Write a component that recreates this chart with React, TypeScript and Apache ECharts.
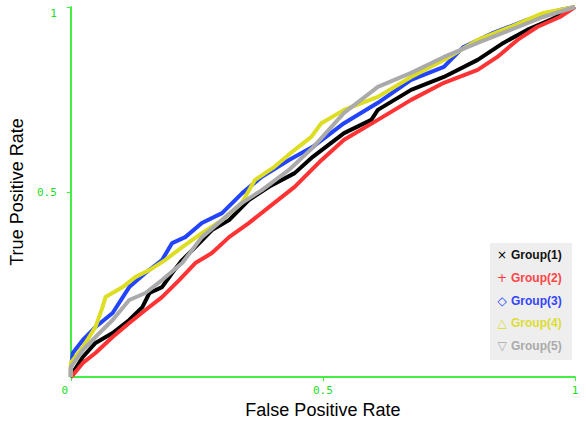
import React, { useEffect, useRef } from "react";
import * as echarts from "echarts";

const seriesNames = ["Group(1)", "Group(2)", "Group(3)", "Group(4)", "Group(5)"];
const seriesColors = ["#000000", "#ff3333", "#2244ff", "#dddd22", "#aaaaaa"];
const legendTextColors = ["#111111", "#ff4444", "#3344ff", "#dddd33", "#aaaaaa"];
const legendSymbols = ["×", "+", "◇", "△", "▽"];

const xTickLabels = ["0", "0.5", "1"];
const yTickLabels = ["", "0.5", "1"];

const group1: [number, number][] = [
  [0, 0], [0.004, 0.011], [0.024, 0.054], [0.049, 0.092], [0.083, 0.119], [0.116, 0.154],
  [0.142, 0.189], [0.156, 0.227], [0.181, 0.243], [0.201, 0.281], [0.221, 0.316],
  [0.247, 0.351], [0.28, 0.397], [0.314, 0.424], [0.353, 0.478], [0.393, 0.514],
  [0.444, 0.551], [0.48, 0.595], [0.542, 0.659], [0.596, 0.695], [0.609, 0.722],
  [0.675, 0.776], [0.74, 0.811], [0.807, 0.857], [0.858, 0.903], [0.905, 0.938],
  [0.951, 0.965], [1, 1],
];
const group2: [number, number][] = [
  [0, 0], [0.004, 0.005], [0.024, 0.038], [0.049, 0.065], [0.083, 0.108], [0.116, 0.146],
  [0.148, 0.181], [0.181, 0.216], [0.215, 0.262], [0.247, 0.308], [0.28, 0.335],
  [0.314, 0.378], [0.353, 0.416], [0.393, 0.459], [0.444, 0.514], [0.497, 0.586],
  [0.542, 0.641], [0.609, 0.695], [0.675, 0.749], [0.74, 0.795], [0.807, 0.83],
  [0.846, 0.865], [0.886, 0.911], [0.925, 0.946], [0.97, 0.973], [1, 1],
];
const group3: [number, number][] = [
  [0, 0], [0, 0.019], [0.004, 0.065], [0.024, 0.1], [0.049, 0.135], [0.083, 0.173],
  [0.116, 0.243], [0.148, 0.281], [0.181, 0.316], [0.201, 0.362], [0.227, 0.378],
  [0.26, 0.416], [0.3, 0.443], [0.34, 0.497], [0.379, 0.541], [0.432, 0.586],
  [0.48, 0.622], [0.542, 0.686], [0.609, 0.741], [0.675, 0.803], [0.74, 0.838],
  [0.779, 0.892], [0.838, 0.93], [0.905, 0.965], [0.97, 0.992], [1, 1],
];
const group4: [number, number][] = [
  [0, 0], [0, 0.038], [0.024, 0.081], [0.049, 0.135], [0.063, 0.189], [0.069, 0.216],
  [0.103, 0.243], [0.128, 0.27], [0.156, 0.289], [0.187, 0.316], [0.221, 0.351],
  [0.26, 0.389], [0.3, 0.424], [0.339, 0.47], [0.365, 0.532], [0.404, 0.568],
  [0.444, 0.614], [0.477, 0.649], [0.497, 0.686], [0.542, 0.722], [0.609, 0.757],
  [0.675, 0.811], [0.74, 0.857], [0.807, 0.911], [0.872, 0.946], [0.937, 0.984], [1, 1],
];
const group5: [number, number][] = [
  [0, 0], [0, 0.027], [0.024, 0.073], [0.049, 0.108], [0.083, 0.154], [0.116, 0.208],
  [0.148, 0.227], [0.181, 0.262], [0.221, 0.308], [0.26, 0.378], [0.3, 0.424],
  [0.339, 0.47], [0.379, 0.505], [0.432, 0.559], [0.48, 0.62], [0.542, 0.714],
  [0.609, 0.784], [0.675, 0.822], [0.74, 0.865], [0.807, 0.903], [0.872, 0.938],
  [0.937, 0.973], [1, 1],
];
const allGroups = [group1, group2, group3, group4, group5];

const GREEN_LINE = "#44ee44";
const GREEN_TEXT = "#22dd22";
const MONO = "'DejaVu Sans Mono', monospace";

export default function App() {
  const ref = useRef<HTMLDivElement>(null);
  useEffect(() => {
    if (!ref.current) return;
    const chart = echarts.init(ref.current, undefined, { renderer: "svg" });
    const legendItems: any[] = [
      {
        type: "rect",
        left: 490,
        top: 243,
        shape: { width: 82, height: 117 },
        style: { fill: "#eeeeee" },
        silent: true,
      },
    ];
    seriesNames.forEach((name, i) => {
      const cy = 255 + i * 22.8;
      legendItems.push({
        type: "text",
        x: 502,
        y: cy,
        style: {
          text: legendSymbols[i],
          fill: seriesColors[i],
          font: "12px 'DejaVu Sans'",
          align: "center",
          verticalAlign: "middle",
        },
        silent: true,
      });
      legendItems.push({
        type: "text",
        x: 511,
        y: cy,
        style: {
          text: name,
          fill: legendTextColors[i],
          font: "bold 12px 'Liberation Sans', Arial, sans-serif",
          align: "left",
          verticalAlign: "middle",
        },
        silent: true,
      });
    });
    const labelRich = {
      a: { color: GREEN_TEXT, fontFamily: MONO, fontSize: 11 },
      l: { color: GREEN_TEXT, fontFamily: MONO, fontSize: 11, padding: [0, 12, 0, 0] },
      d: { color: GREEN_TEXT, fontFamily: MONO, fontSize: 11, padding: [12, 0, 0, 0] },
    };
    chart.setOption({
      animation: false,
      backgroundColor: "#ffffff",
      grid: { left: 68, right: 11, top: 7, bottom: 61, containLabel: false },
      xAxis: {
        type: "value",
        min: 0,
        max: 1,
        interval: 0.5,
        name: "False Positive Rate",
        nameLocation: "middle",
        nameGap: 22,
        nameTextStyle: { fontFamily: "'Liberation Sans', Arial, sans-serif", fontSize: 18, color: "#000" },
        axisLine: { show: true, onZero: false, lineStyle: { color: GREEN_LINE, width: 2 } },
        axisTick: { show: true, length: 4, lineStyle: { color: GREEN_LINE, width: 1 } },
        splitLine: { show: false },
        axisLabel: {
          color: GREEN_TEXT,
          fontFamily: MONO,
          fontSize: 11,
          margin: 8,
          rich: labelRich,
          formatter: (v: number) => {
            const idx = Math.round(v * 2);
            const t = xTickLabels[idx] ?? "";
            return idx === 0 ? `{l|${t}}` : `{a|${t}}`;
          },
        },
      },
      yAxis: {
        type: "value",
        min: 0,
        max: 1,
        interval: 0.5,
        name: "True Positive Rate",
        nameLocation: "middle",
        nameGap: 42,
        nameTextStyle: { fontFamily: "'Liberation Sans', Arial, sans-serif", fontSize: 18, color: "#000" },
        axisLine: { show: true, onZero: false, lineStyle: { color: GREEN_LINE, width: 2 } },
        axisTick: { show: true, length: 4, lineStyle: { color: GREEN_LINE, width: 1 } },
        splitLine: { show: false },
        axisLabel: {
          color: GREEN_TEXT,
          fontFamily: MONO,
          fontSize: 11,
          margin: 14,
          showMinLabel: false,
          rich: labelRich,
          formatter: (v: number) => {
            const idx = Math.round(v * 2);
            const t = yTickLabels[idx] ?? "";
            if (!t) return "";
            return idx === 2 ? `{d|${t}}` : `{a|${t}}`;
          },
        },
      },
      series: allGroups.map((d, i) => ({
        name: seriesNames[i],
        type: "line",
        data: d,
        showSymbol: false,
        symbol: "none",
        lineStyle: { color: seriesColors[i], width: 4 },
        itemStyle: { color: seriesColors[i] },
        z: 2 + i,
      })),
      graphic: legendItems,
    });
    return () => chart.dispose();
  }, []);
  return (
    <div
      ref={ref}
      style={{ position: "absolute", left: 0, top: 0, width: 586, height: 438 }}
    />
  );
}
